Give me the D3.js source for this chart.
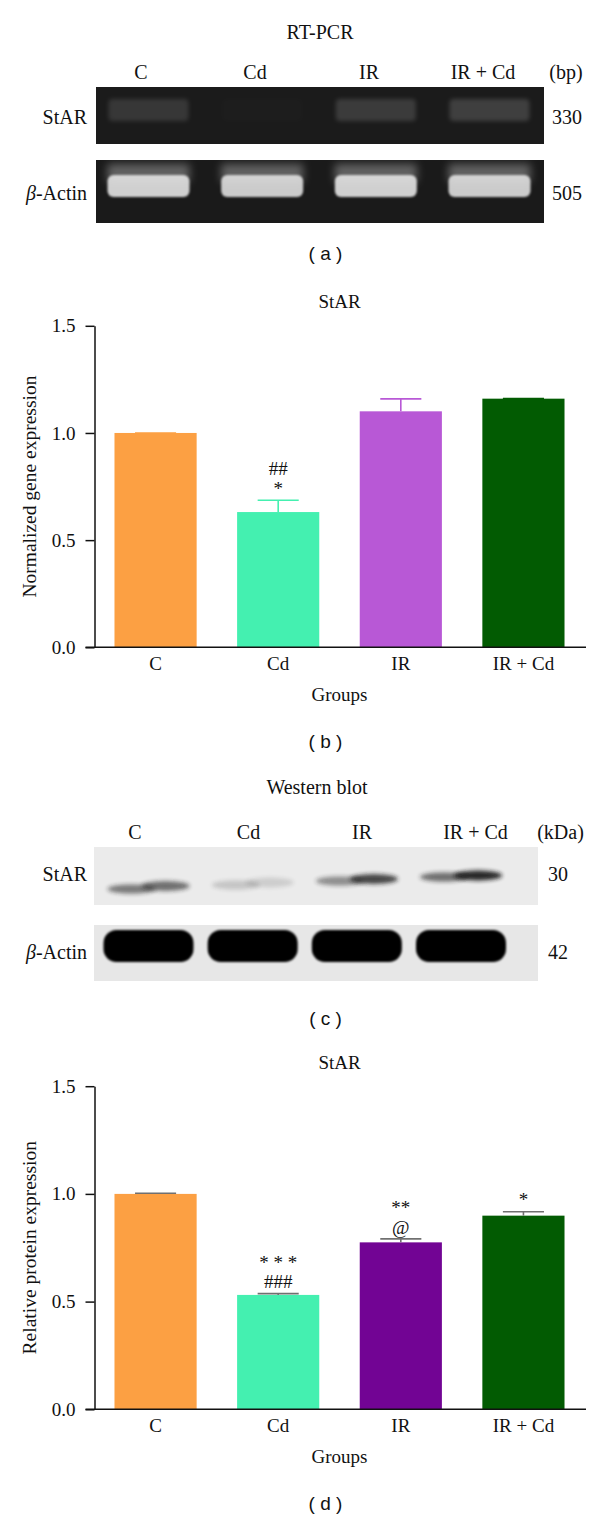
<!DOCTYPE html>
<html>
<head>
<meta charset="utf-8">
<script src="https://cdn.jsdelivr.net/npm/d3@7"></script>
<style>
body { margin: 0; background: #fff; }
text { font-family: "Liberation Serif", serif; fill: #111; }
.letter { font-family: "Liberation Sans", sans-serif; }
</style>
</head>
<body>
<div id="chart-area"></div>
<script>
// groups and values
var groups = ["C", "Cd", "IR", "IR + Cd"];

var geneMean = [1.0, 0.631, 1.101, 1.160];
var geneErr = [0, 0.055, 0.058, 0.001];
var geneMarks = [[], ["##", "*"], [], []];

var proteinMean = [1.0, 0.531, 0.775, 0.899];
var proteinErr = [0.003, 0.006, 0.016, 0.018];
var proteinMarks = [[], ["* * *", "###"], ["**", "@"], ["*"]];

var yTicks = [0, 0.5, 1.0, 1.5];

// band strength on the gel / blot pictures (0..1)
var pcrStar = [0.55, 0.03, 0.65, 0.72];
var pcrActin = [0.9, 0.88, 0.9, 0.88];
var wbStarLeft = [0.55, 0.18, 0.45, 0.6];
var wbStarRight = [0.6, 0.14, 0.8, 0.95];
var wbActin = [1, 1, 1, 1];

var geneColors = ["#fca043", "#44f0b0", "#b858d6", "#025b02"];
var proteinColors = ["#fca043", "#44f0b0", "#720494", "#025b02"];

var W = 600, H = 1519;
var svg = d3.select("#chart-area").append("svg")
    .attr("width", W)
    .attr("height", H);

svg.append("rect").attr("width", W).attr("height", H).attr("fill", "#fff");

var defs = svg.append("defs");
[["blur1", 1.2], ["blur2", 2.2], ["blur4", 4]].forEach(function (f) {
    defs.append("filter").attr("id", f[0])
        .attr("x", "-30%").attr("y", "-80%").attr("width", "160%").attr("height", "260%")
        .append("feGaussianBlur").attr("stdDeviation", f[1]);
});

function label(x, y, txt, size, anchor, cls) {
    return svg.append("text")
        .attr("class", cls || null)
        .attr("x", x).attr("y", y)
        .attr("dy", "0.35em")
        .attr("text-anchor", anchor || "middle")
        .style("font-size", size + "px")
        .text(txt);
}

function betaActin(x, y) {
    var t = svg.append("text")
        .attr("x", x).attr("y", y).attr("dy", "0.35em")
        .attr("text-anchor", "end")
        .style("font-size", "20px");
    t.append("tspan").style("font-style", "italic").text("β");
    t.append("tspan").text("-Actin");
}

// ---------- (a) RT-PCR gel ----------
label(320, 32, "RT-PCR", 20);
var laneLabelA = d3.scalePoint().domain(groups).range([141, 483]);
var laneA = d3.scalePoint().domain(groups).range([148.5, 489.5]);
groups.forEach(function (g) { label(laneLabelA(g), 72, g, 20); });
label(566, 72, "(bp)", 20);

svg.append("rect").attr("x", 96).attr("y", 87).attr("width", 448).attr("height", 57).attr("fill", "#1b1b1b");
svg.append("rect").attr("x", 96).attr("y", 160).attr("width", 448).attr("height", 63).attr("fill", "#1a1a1a");

svg.append("g").selectAll("rect").data(groups).enter().append("rect")
    .attr("x", function (d) { return laneA(d) - 40; })
    .attr("y", 99)
    .attr("width", 80).attr("height", 22).attr("rx", 4)
    .attr("fill", "#fff")
    .attr("opacity", function (d, i) { return pcrStar[i] * 0.22; })
    .attr("filter", "url(#blur2)");

svg.append("g").selectAll("rect").data(groups).enter().append("rect")
    .attr("x", function (d) { return laneA(d) - 41; })
    .attr("y", 164)
    .attr("width", 82).attr("height", 18)
    .attr("fill", "#fff")
    .attr("opacity", function (d, i) { return pcrActin[i] * 0.35; })
    .attr("filter", "url(#blur4)");

svg.append("g").selectAll("rect").data(groups).enter().append("rect")
    .attr("x", function (d) { return laneA(d) - 41; })
    .attr("y", 175)
    .attr("width", 82).attr("height", 22).attr("rx", 6)
    .attr("fill", "#e4e4e4")
    .attr("opacity", function (d, i) { return pcrActin[i]; })
    .attr("filter", "url(#blur1)");

label(87, 117, "StAR", 20, "end");
betaActin(87, 193);
label(567, 117, "330", 20);
label(567, 193, "505", 20);
label(325.5, 253, "( a )", 19, "middle", "letter");

// ---------- bar chart panels ----------
function barPanel(p) {
    var x = d3.scaleBand().domain(groups)
        .range([94.5, 584.5])
        .paddingInner(0.33)
        .paddingOuter(0.163);
    var y = d3.scaleLinear().domain([0, 1.5]).range([p.y0, p.y15]);
    var g = svg.append("g");

    // bars
    g.selectAll("rect.bar").data(groups).enter().append("rect")
        .attr("class", "bar")
        .attr("x", function (d) { return x(d); })
        .attr("y", function (d, i) { return y(p.mean[i]); })
        .attr("width", x.bandwidth())
        .attr("height", function (d, i) { return y(0) - y(p.mean[i]); })
        .attr("fill", function (d, i) { return p.colors[i]; });

    // error bars
    var eb = g.selectAll("g.err").data(groups).enter().append("g")
        .attr("class", "err")
        .attr("stroke", function (d, i) { return p.errColor || p.colors[i]; })
        .attr("stroke-width", 1.6);
    eb.append("line")
        .attr("x1", function (d) { return x(d) + x.bandwidth() / 2; })
        .attr("x2", function (d) { return x(d) + x.bandwidth() / 2; })
        .attr("y1", function (d, i) { return y(p.mean[i]); })
        .attr("y2", function (d, i) { return y(p.mean[i] + p.err[i]); });
    eb.append("line")
        .attr("x1", function (d) { return x(d) + x.bandwidth() / 4; })
        .attr("x2", function (d) { return x(d) + x.bandwidth() * 3 / 4; })
        .attr("y1", function (d, i) { return y(p.mean[i] + p.err[i]); })
        .attr("y2", function (d, i) { return y(p.mean[i] + p.err[i]); });

    // significance marks
    groups.forEach(function (gr, i) {
        var lines = p.marks[i];
        var capY = y(p.mean[i] + p.err[i]);
        lines.forEach(function (t, k) {
            var fromBottom = lines.length - 1 - k;
            g.append("text")
                .attr("x", x(gr) + x.bandwidth() / 2)
                .attr("y", capY - 12 - fromBottom * 19.5)
                .attr("dy", "0.35em")
                .attr("text-anchor", "middle")
                .style("font-size", "19px")
                .text(t);
        });
    });

    // y axis
    var yAxis = g.append("g")
        .attr("transform", "translate(" + x.range()[0] + ",0)")
        .call(d3.axisLeft(y).tickValues(yTicks)
            .tickFormat(d3.format(".1f"))
            .tickSize(9).tickPadding(10).tickSizeOuter(0));
    yAxis.selectAll("line, path").attr("stroke", "#111").attr("stroke-width", 1.5);
    yAxis.selectAll("text").style("font-size", "19px").style("font-family", "Liberation Serif").attr("fill", "#111");

    // x axis
    var xAxis = g.append("g")
        .attr("transform", "translate(0," + y(0) + ")")
        .call(d3.axisBottom(x).tickSize(0).tickPadding(9));
    xAxis.select(".domain").remove();
    xAxis.selectAll("text").style("font-size", "19px").style("font-family", "Liberation Serif").attr("fill", "#111");
    g.append("line")
        .attr("x1", x.range()[0] - 9).attr("x2", x.range()[1] + 1.5)
        .attr("y1", y(0)).attr("y2", y(0))
        .attr("stroke", "#111").attr("stroke-width", 1.5);

    var mid = (x.range()[0] + x.range()[1]) / 2;
    label(mid, y(1.5) - 24, p.title, 19);
    label(mid, y(0) + 47, "Groups", 19);
    g.append("text")
        .attr("transform", "translate(29," + (y(0) + y(1.5)) / 2 + ") rotate(-90)")
        .attr("dy", "0.35em")
        .attr("text-anchor", "middle")
        .style("font-size", "19.5px")
        .text(p.ylabel);
    label(325.5, y(0) + 94, p.letter, 19, "middle", "letter");
}

barPanel({
    y0: 647.3, y15: 325.8,
    mean: geneMean, err: geneErr, marks: geneMarks,
    colors: geneColors, errColor: null,
    title: "StAR", ylabel: "Normalized gene expression", letter: "( b )"
});

// ---------- (c) western blot ----------
label(317, 787, "Western blot", 20);
var laneLabelC = d3.scalePoint().domain(groups).range([135, 475.5]);
var laneC = d3.scalePoint().domain(groups).range([148.5, 461]);
groups.forEach(function (g) { label(laneLabelC(g), 832, g, 20); });
label(560.5, 832, "(kDa)", 20);

svg.append("rect").attr("x", 94).attr("y", 847).attr("width", 444).attr("height", 58).attr("fill", "#ebebeb");
svg.append("rect").attr("x", 94).attr("y", 925).attr("width", 444).attr("height", 56).attr("fill", "#e7e7e7");

svg.append("g").selectAll("ellipse").data(groups).enter().append("ellipse")
    .attr("cx", function (d) { return laneC(d) - 17; })
    .attr("cy", function (d, i) { return 889 - i * 4; })
    .attr("rx", 24).attr("ry", 4.5)
    .attr("fill", "#1a1a1a")
    .attr("opacity", function (d, i) { return wbStarLeft[i]; })
    .attr("filter", "url(#blur2)");
svg.append("g").selectAll("ellipse").data(groups).enter().append("ellipse")
    .attr("cx", function (d) { return laneC(d) + 17; })
    .attr("cy", function (d, i) { return 886 - i * 3.5; })
    .attr("rx", 24).attr("ry", 5)
    .attr("fill", "#1a1a1a")
    .attr("opacity", function (d, i) { return wbStarRight[i]; })
    .attr("filter", "url(#blur2)");

svg.append("g").selectAll("rect").data(groups).enter().append("rect")
    .attr("x", function (d) { return laneC(d) - 45; })
    .attr("y", 930)
    .attr("width", 90).attr("height", 32).attr("rx", 13)
    .attr("fill", "#060606")
    .attr("opacity", function (d, i) { return wbActin[i]; })
    .attr("filter", "url(#blur1)");

label(87, 874, "StAR", 20, "end");
betaActin(87, 952);
label(558, 874, "30", 20);
label(558, 952, "42", 20);
label(325.5, 1018, "( c )", 19, "middle", "letter");

// ---------- (d) protein ----------
barPanel({
    y0: 1409.3, y15: 1086.2,
    mean: proteinMean, err: proteinErr, marks: proteinMarks,
    colors: proteinColors, errColor: "#707070",
    title: "StAR", ylabel: "Relative protein expression", letter: "( d )"
});
</script>
</body>
</html>
